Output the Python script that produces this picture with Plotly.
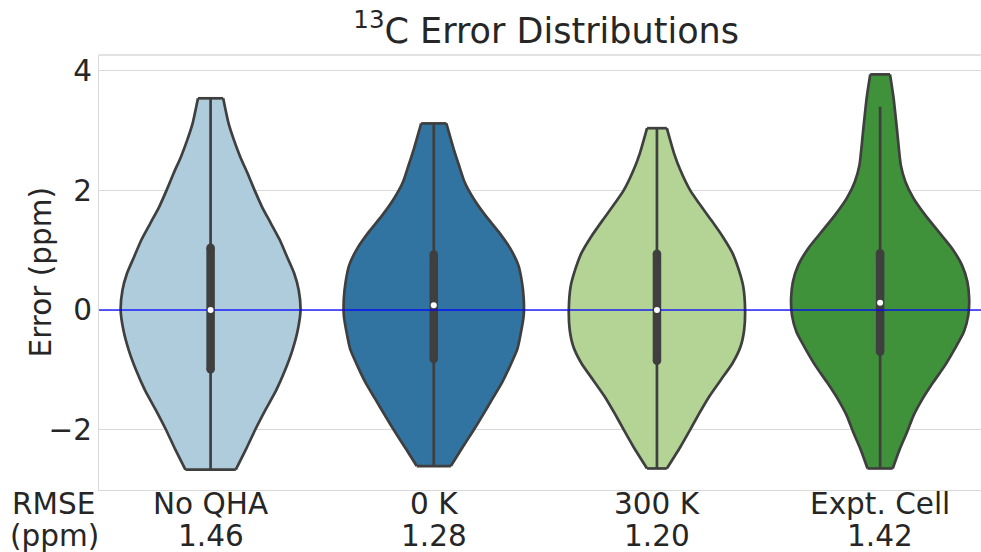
import plotly.graph_objects as go

# Categories and the RMSE shown beneath each one
categories = ["No QHA", "0 K", "300 K", "Expt. Cell"]
rmse_ppm = ["1.46", "1.28", "1.20", "1.42"]
fill_colors = ["#aeccdb", "#3274a1", "#b3d495", "#40923a"]

# Density outline of each violin: error level (ppm), bottom to top, and relative width
noqha_y = [-2.67, -2.34, -1.99, -1.67, -1.34, -1.00, -0.67, -0.33, 0.00, 0.33, 0.61, 0.89,
           1.17, 1.45, 1.73, 2.00, 2.29, 2.56, 2.84, 3.12, 3.54]
noqha_density = [0.28, 0.39, 0.50, 0.61, 0.73, 0.83, 0.91, 0.97, 1.00, 0.98, 0.93, 0.85,
                 0.77, 0.67, 0.57, 0.49, 0.41, 0.33, 0.26, 0.20, 0.14]

k0_y = [-2.61, -2.32, -2.04, -1.77, -1.49, -1.21, -0.93, -0.65, -0.37, -0.09, 0.19, 0.47,
        0.75, 1.03, 1.31, 1.59, 1.87, 2.15, 2.42, 2.70, 3.12]
k0_density = [0.19, 0.31, 0.43, 0.54, 0.65, 0.76, 0.85, 0.93, 0.97, 1.00, 1.00, 0.98,
              0.94, 0.85, 0.72, 0.57, 0.44, 0.34, 0.28, 0.22, 0.14]

k300_y = [-2.65, -2.29, -2.00, -1.73, -1.45, -1.17, -0.89, -0.61, -0.33, 0.00, 0.39, 0.67,
          0.95, 1.23, 1.51, 1.78, 2.00, 2.34, 2.62, 3.04]
k300_density = [0.11, 0.26, 0.37, 0.47, 0.58, 0.71, 0.84, 0.93, 0.97, 0.98, 0.96, 0.91,
                0.84, 0.73, 0.60, 0.47, 0.37, 0.26, 0.19, 0.11]

expt_y = [-2.65, -2.32, -2.04, -1.77, -1.49, -1.21, -0.93, -0.65, -0.37, -0.09, 0.19, 0.47,
          0.75, 1.03, 1.31, 1.59, 1.87, 2.15, 2.42, 2.98, 3.54, 3.94]
expt_density = [0.14, 0.22, 0.30, 0.37, 0.47, 0.59, 0.72, 0.83, 0.93, 0.98, 0.99, 0.97,
                0.91, 0.80, 0.65, 0.50, 0.37, 0.28, 0.23, 0.19, 0.15, 0.11]

outline_y = [noqha_y, k0_y, k300_y, expt_y]
outline_density = [noqha_density, k0_density, k300_density, expt_density]

# Inner box statistics (ppm)
q1 = [-0.99, -0.82, -0.85, -0.70]
medians = [0.00, 0.08, 0.00, 0.12]
q3 = [1.04, 0.93, 0.94, 0.95]
whisker_low = [-2.67, -2.61, -2.65, -2.65]
whisker_high = [3.54, 3.12, 3.04, 3.40]

y_ticks = [-2, 0, 2, 4]

HALF_WIDTH = 0.403
EDGE = "#3f3f3f"
EDGE_WIDTH = 2.7
TEXT = "#262626"
GRID = "#d9d9d9"
FONT = "DejaVu Sans"
LABEL_SIZE = 29.5
X_RANGE = [-0.5, 3.452]
Y_RANGE = [-3.01, 4.264]
PLOT_LEFT, PLOT_WIDTH = 99, 882

fig = go.Figure()

# Violin bodies: filled polygon, then a smooth outline on each side with flat ends
for i, (ys, dens) in enumerate(zip(outline_y, outline_density)):
    ys = list(ys)
    xs_right = [i + HALF_WIDTH * d for d in dens]
    xs_left = [i - HALF_WIDTH * d for d in dens]
    fig.add_trace(go.Scatter(
        x=xs_right + xs_left[::-1],
        y=ys + ys[::-1],
        mode="lines",
        line=dict(width=0, color=fill_colors[i]),
        fill="toself",
        fillcolor=fill_colors[i],
        hoverinfo="skip",
        showlegend=False,
    ))
    fig.add_trace(go.Scatter(
        x=xs_right + [None] + xs_left + [None]
          + [xs_left[-1], xs_right[-1]] + [None] + [xs_left[0], xs_right[0]],
        y=ys + [None] + ys + [None]
          + [ys[-1], ys[-1]] + [None] + [ys[0], ys[0]],
        mode="lines",
        line=dict(color=EDGE, width=EDGE_WIDTH, shape="spline", smoothing=0.6),
        connectgaps=False,
        hoverinfo="skip",
        showlegend=False,
    ))

# Whiskers and interquartile boxes (round-ended)
for i in range(len(categories)):
    fig.add_trace(go.Scatter(
        x=[i, i], y=[whisker_low[i], whisker_high[i]],
        mode="lines", line=dict(color=EDGE, width=EDGE_WIDTH),
        hoverinfo="skip", showlegend=False,
    ))
    fig.add_trace(go.Scatter(
        x=[i, i], y=[q1[i], q3[i]],
        mode="lines+markers", line=dict(color=EDGE, width=8.5),
        marker=dict(color=EDGE, size=8.5, line=dict(width=0)),
        hoverinfo="skip", showlegend=False,
    ))

# Zero-error reference line
fig.add_trace(go.Scatter(
    x=X_RANGE, y=[0, 0], mode="lines",
    line=dict(color="rgba(0,0,255,0.85)", width=1.3),
    hoverinfo="skip", showlegend=False,
))

# Medians
fig.add_trace(go.Scatter(
    x=list(range(len(categories))), y=medians, mode="markers",
    marker=dict(color="white", size=6, line=dict(width=0)),
    hoverinfo="skip", showlegend=False,
))

fig.update_layout(
    width=981, height=552,
    margin=dict(l=PLOT_LEFT, r=0, t=55, b=62),
    paper_bgcolor="white", plot_bgcolor="white",
    font=dict(family=FONT, color=TEXT, size=LABEL_SIZE),
    title=dict(
        text="<sup>13</sup>C Error Distributions",
        font=dict(family=FONT, size=35, color=TEXT),
        x=0.507, xref="paper", xanchor="center",
        y=0.945, yref="container", yanchor="middle",
    ),
    xaxis=dict(
        range=X_RANGE,
        tickmode="array",
        tickvals=list(range(len(categories))),
        showticklabels=False,
        showgrid=False, zeroline=False,
        showline=True, linecolor=GRID, linewidth=1.3,
        ticks="",
    ),
    yaxis=dict(
        range=Y_RANGE,
        tickmode="array", tickvals=y_ticks,
        showgrid=True, gridcolor=GRID, gridwidth=1.2,
        zeroline=False,
        showline=True, linecolor=GRID, linewidth=1.3,
        ticks="", tickfont=dict(size=LABEL_SIZE, color=TEXT),
    ),
    shapes=[dict(
        type="line", xref="paper", yref="paper",
        x0=0, x1=1, y0=1, y1=1,
        line=dict(color=GRID, width=1.3), layer="below",
    )],
)


def px_to_paper_x(px):
    return (px - PLOT_LEFT) / PLOT_WIDTH


def bottom_text(text, x, xref, yshift):
    fig.add_annotation(
        x=x, xref=xref, y=0, yref="paper",
        text=text, showarrow=False,
        xanchor="center", yanchor="middle", yshift=yshift,
        font=dict(family=FONT, size=LABEL_SIZE, color=TEXT),
    )


# Category names with their RMSE underneath
for i, (name, val) in enumerate(zip(categories, rmse_ppm)):
    bottom_text(name, i, "x", -14)
    bottom_text(val, i, "x", -46)
bottom_text("RMSE", px_to_paper_x(53), "paper", -14)
bottom_text("(ppm)", px_to_paper_x(54), "paper", -46)

# Vertical axis title
fig.add_annotation(
    x=px_to_paper_x(40), xref="paper", y=0.5, yref="paper",
    text="Error (ppm)", textangle=-90, showarrow=False,
    xanchor="center", yanchor="middle",
    font=dict(family=FONT, size=LABEL_SIZE, color=TEXT),
)

fig.write_html("out.html")
